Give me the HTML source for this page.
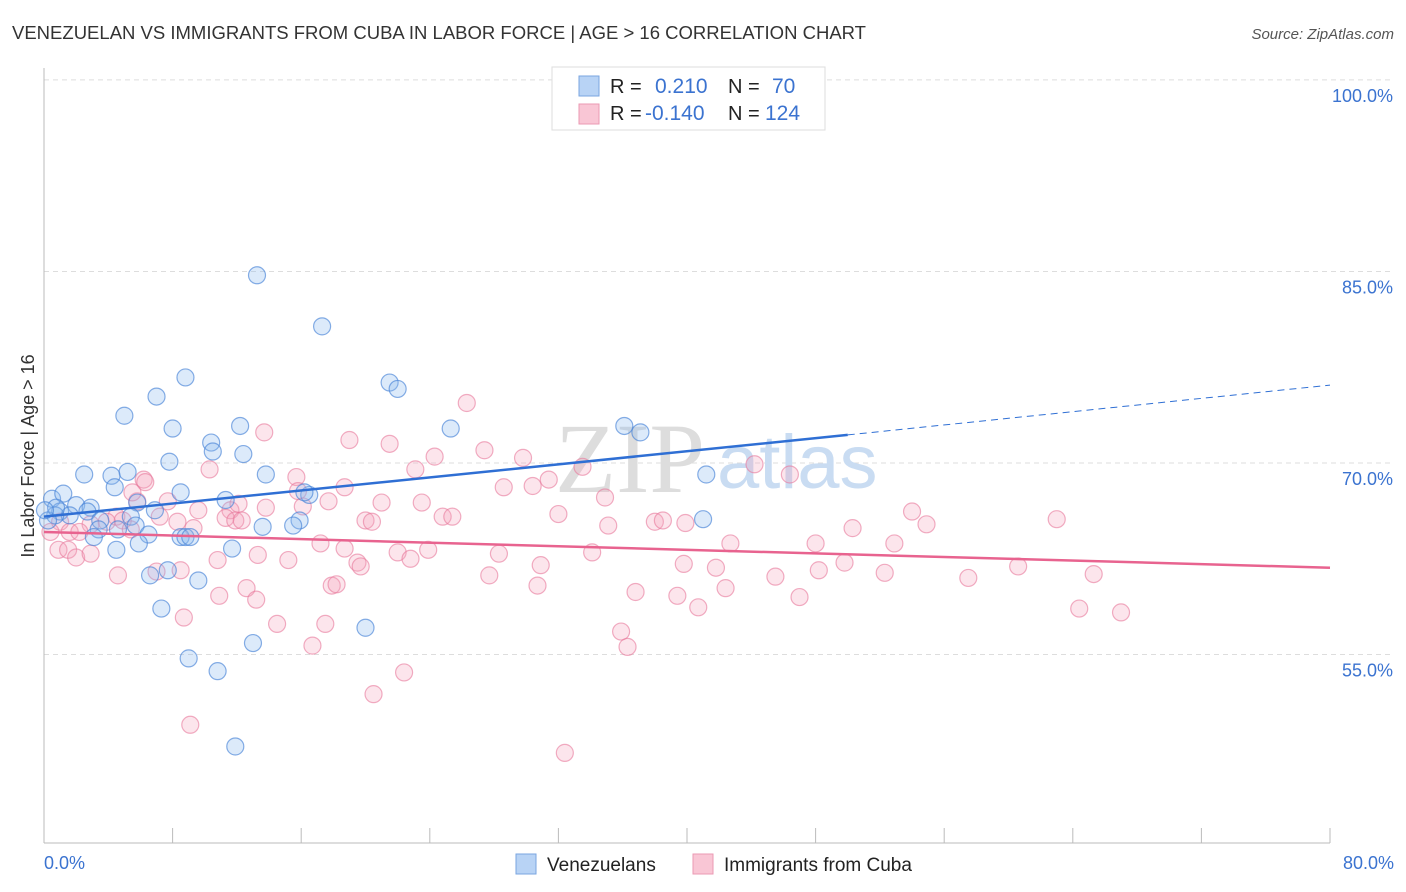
<!DOCTYPE html>
<html><head><meta charset="utf-8"><style>
body{margin:0;background:#fff;font-family:"Liberation Sans",sans-serif;}
svg{display:block}
</style></head><body>
<svg id="chart" width="1406" height="892" xmlns="http://www.w3.org/2000/svg">
<text x="12" y="39" font-size="18" fill="#333" textLength="854" lengthAdjust="spacingAndGlyphs">VENEZUELAN VS IMMIGRANTS FROM CUBA IN LABOR FORCE | AGE &gt; 16 CORRELATION CHART</text>
<text x="1394" y="39" font-size="15" fill="#555" font-style="italic" text-anchor="end">Source: ZipAtlas.com</text>
<g id="grid"></g>
<text x="555" y="492" font-size="100" fill="#ddd" font-family="Liberation Serif,serif">ZIP</text>
<text x="717" y="488" font-size="76" fill="#c9dcf2">atlas</text>
<g id="axes"></g>
<g id="pts"></g>
<g id="trends"></g>
<text x="34" y="456" font-size="18" fill="#333" transform="rotate(-90 34 456)" text-anchor="middle">In Labor Force | Age &gt; 16</text>
<text x="44" y="869" font-size="18" fill="#3b73d0">0.0%</text>
<text x="1394" y="869" font-size="18" fill="#3b73d0" text-anchor="end">80.0%</text>
<g>
<rect x="552" y="67" width="273" height="63" fill="#fff" stroke="#ddd"/>
<rect x="579" y="76" width="20" height="20" fill="#b8d3f5" stroke="#7aa6e0"/>
<rect x="579" y="104" width="20" height="20" fill="#f9c6d5" stroke="#eb9ab3"/>
<text x="610" y="93" font-size="20" fill="#222">R = </text><text x="655" y="93" font-size="21" fill="#3b73d0">0.210</text>
<text x="728" y="93" font-size="20" fill="#222">N = </text><text x="772" y="93" font-size="21" fill="#3b73d0">70</text>
<text x="610" y="120" font-size="20" fill="#222">R = </text><text x="645" y="120" font-size="21" fill="#3b73d0">-0.140</text>
<text x="728" y="120" font-size="20" fill="#222">N = </text><text x="765" y="120" font-size="21" fill="#3b73d0">124</text>
</g>
<g>
<rect x="516" y="854" width="20" height="20" fill="#b8d3f5" stroke="#7aa6e0"/>
<text x="547" y="871" font-size="19" fill="#222">Venezuelans</text>
<rect x="693" y="854" width="20" height="20" fill="#f9c6d5" stroke="#eb9ab3"/>
<text x="724" y="871" font-size="19" fill="#222">Immigrants from Cuba</text>
</g>
</svg>
<script>
const yTicks=[55,70,85,100];
const blueX=[13.25,17.3,21.5,22.0,8.8,7.0,5.0,8.0,12.2,10.4,10.5,12.4,7.8,5.2,2.5,4.2,4.4,13.8,8.5,5.8,11.3,0.5,1.2,2.0,2.9,2.7,1.0,1.6,0.7,0.25,3.5,5.4,5.7,6.9,15.9,16.5,16.2,13.6,15.5,3.4,4.6,6.5,8.5,8.8,9.1,3.1,5.9,4.5,11.7,7.7,6.6,9.6,7.3,20.0,13.0,9.0,10.8,11.9,25.3,36.1,37.1,41.2,41.0,0.75,0.06];
const blueY=[84.7,80.7,76.3,75.8,76.7,75.2,73.7,72.7,72.9,71.6,70.9,70.7,70.1,69.3,69.1,69.0,68.1,69.1,67.7,66.9,67.1,67.2,67.6,66.7,66.5,66.2,66.2,65.9,65.9,65.5,65.5,65.8,65.1,66.3,65.5,67.5,67.7,65.0,65.1,64.8,64.8,64.4,64.2,64.2,64.2,64.2,63.7,63.2,63.3,61.6,61.2,60.8,58.6,57.1,55.9,54.7,53.7,47.8,72.7,72.9,72.4,69.1,65.6,66.5,66.3];
const pinkX=[26.3,13.7,19.0,21.5,27.4,24.3,29.8,23.1,10.3,15.7,6.2,6.3,33.5,44.2,46.4,18.7,28.6,30.4,31.4,34.9,21.0,23.5,15.8,17.7,16.1,5.8,7.7,9.6,11.6,12.1,13.8,7.2,8.3,9.3,11.3,11.9,12.3,4.5,4.9,3.9,2.9,1.0,1.6,0.4,2.2,5.4,20.0,20.4,24.8,25.4,32.0,35.1,38.0,38.5,39.9,54.0,54.9,50.3,63.0,52.9,48.0,42.7,17.2,18.7,22.0,23.9,13.3,10.8,15.2,19.5,19.7,22.8,28.3,30.9,34.1,39.8,41.8,49.8,48.2,52.3,57.5,60.6,65.3,0.9,1.5,2.0,2.9,4.6,7.0,8.5,12.6,10.9,13.2,17.9,18.2,27.7,30.7,36.8,39.4,42.4,45.5,47.0,40.7,8.7,14.5,17.5,16.7,35.9,36.3,22.4,20.5,9.1,32.4,64.4,67.0,5.5];
const pinkY=[74.7,72.4,71.8,71.5,71.0,70.5,70.4,69.5,69.5,68.9,68.7,68.5,69.7,69.9,69.1,68.1,68.1,68.2,68.7,67.3,66.9,66.9,67.8,67.0,66.6,67.0,67.0,66.3,66.3,66.8,66.5,65.8,65.4,64.9,65.7,65.5,65.5,65.8,65.5,65.4,65.2,65.4,64.6,64.6,64.6,64.8,65.5,65.4,65.8,65.8,66.0,65.1,65.4,65.5,65.3,66.2,65.2,64.9,65.6,63.7,63.7,63.7,63.7,63.3,63.0,63.2,62.8,62.4,62.4,62.2,61.9,62.5,62.9,62.0,63.0,62.1,61.8,62.2,61.6,61.4,61.0,61.9,61.3,63.2,63.2,62.6,62.9,61.2,61.5,61.6,60.2,59.6,59.3,60.4,60.5,61.2,60.4,59.9,59.6,60.2,61.1,59.5,58.7,57.9,57.4,57.4,55.7,56.8,55.6,53.6,51.9,49.5,47.3,58.6,58.3,67.7];
const blueTrend=[65.8,72.2,76.1];
const pinkTrend=[64.6,61.8];
const NS='http://www.w3.org/2000/svg';
const sx=v=>44+v/80*1286;
const sy=v=>463-(v-70)*12.77;
function mk(tag,attrs,parent){const e=document.createElementNS(NS,tag);for(const k in attrs)e.setAttribute(k,attrs[k]);parent.appendChild(e);return e;}
const grid=document.getElementById('grid'),axes=document.getElementById('axes'),pts=document.getElementById('pts'),tr=document.getElementById('trends');
const svg=document.getElementById('chart');
yTicks.forEach(t=>{
 const l=mk('line',{x1:44,x2:1394,y1:sy(t),y2:sy(t),stroke:'#ddd','stroke-dasharray':'5,4'},grid);
 
 
 const tx=mk('text',{x:1393,y:sy(t)+22,'font-size':18,fill:'#3b73d0','text-anchor':'end'},svg);
 tx.textContent=t.toFixed(1)+'%';
 
 
});
const ax=mk('line',{x1:44,x2:1330,y1:843,y2:843,stroke:'#bbb'},axes);


const ay=mk('line',{x1:44,x2:44,y1:68,y2:843,stroke:'#bbb'},axes);


for(let k=0;k<=10;k++){const t=mk('line',{x1:sx(k*8),x2:sx(k*8),y1:828,y2:843,stroke:'#bbb'},axes);
 
 }
pinkX.forEach((x,i)=>{const c=mk('circle',{cx:sx(x),cy:sy(pinkY[i]),r:8.5,fill:'rgba(245,160,187,0.28)',stroke:'rgba(232,120,155,0.6)','stroke-width':1.2},pts);
 
 });
blueX.forEach((x,i)=>{const c=mk('circle',{cx:sx(x),cy:sy(blueY[i]),r:8.5,fill:'rgba(140,185,240,0.3)',stroke:'rgba(70,130,215,0.65)','stroke-width':1.2},pts);
 
 });
const b1=mk('line',{x1:sx(0),y1:sy(blueTrend[0]),x2:sx(50),y2:sy(blueTrend[1]),stroke:'#2f6fd4','stroke-width':2.5},tr);


const b2=mk('line',{x1:sx(50),y1:sy(blueTrend[1]),x2:sx(80),y2:sy(blueTrend[2]),stroke:'#2f6fd4','stroke-width':1,'stroke-dasharray':'7,5'},tr);


const p1=mk('line',{x1:sx(0),y1:sy(pinkTrend[0]),x2:sx(80),y2:sy(pinkTrend[1]),stroke:'#e8638f','stroke-width':2.5},tr);


</script>
</body></html>
